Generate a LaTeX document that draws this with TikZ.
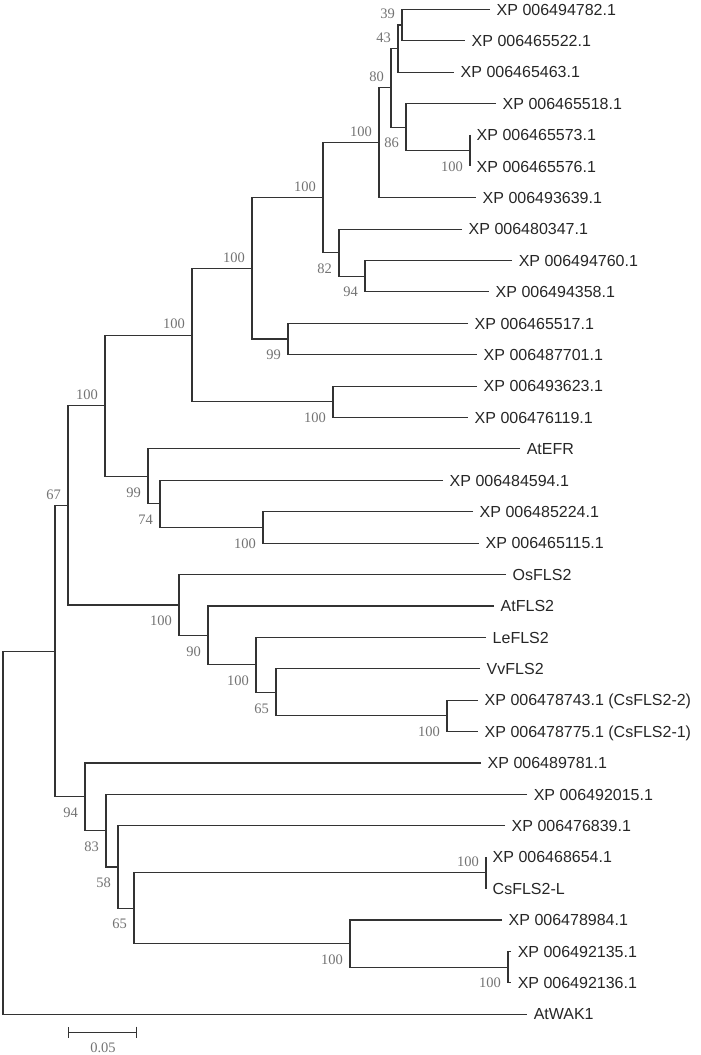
\documentclass[tikz,border=0pt]{standalone}
\usepackage{fontspec}
\setmainfont{Liberation Sans}
\newfontfamily\bsfont{Liberation Serif}
\usetikzlibrary{arrows.meta}

\begin{document}
\begin{tikzpicture}[
    x=1pt, y=-31.4pt,
    br/.style={draw=black!80, line width=1.1pt},
    leaf/.style={anchor=west, inner xsep=6.5pt, inner ysep=0pt, text height=11.5pt, text depth=0pt, font=\fontsize{16}{16}\selectfont, text=black!85},
    bs/.style={inner sep=0pt, text height=9.5pt, text depth=0pt, font=\bsfont\fontsize{14.5}{14.5}\selectfont, text=black!55},
    bsu/.style={bs, anchor=south east, xshift=-7pt, yshift=6pt},
    bsl/.style={bs, anchor=north east, xshift=-7pt, yshift=-11pt}
]
\useasboundingbox (0,-0.296) rectangle (700,33.30);

\node[leaf] (xp94782) at (490,0) {XP 006494782.1};
\node[leaf] (xp65522) at (465,1) {XP 006465522.1};
\node[leaf] (xp65463) at (454,2) {XP 006465463.1};
\node[leaf] (xp65518) at (496,3) {XP 006465518.1};
\node[leaf] (xp65573) at (470,4) {XP 006465573.1};
\node[leaf] (xp65576) at (470,5) {XP 006465576.1};
\node[leaf] (xp93639) at (476,6) {XP 006493639.1};
\node[leaf] (xp80347) at (462,7) {XP 006480347.1};
\node[leaf] (xp94760) at (512,8) {XP 006494760.1};
\node[leaf] (xp94358) at (489,9) {XP 006494358.1};
\node[leaf] (xp65517) at (468,10) {XP 006465517.1};
\node[leaf] (xp87701) at (477,11) {XP 006487701.1};
\node[leaf] (xp93623) at (477,12) {XP 006493623.1};
\node[leaf] (xp76119) at (468,13) {XP 006476119.1};
\node[leaf] (atefr) at (520,14) {AtEFR};
\node[leaf] (xp84594) at (443,15) {XP 006484594.1};
\node[leaf] (xp85224) at (473,16) {XP 006485224.1};
\node[leaf] (xp65115) at (479,17) {XP 006465115.1};
\node[leaf] (osfls) at (506,18) {OsFLS2};
\node[leaf] (atfls) at (494,19) {AtFLS2};
\node[leaf] (lefls) at (486,20) {LeFLS2};
\node[leaf] (vvfls) at (480,21) {VvFLS2};
\node[leaf] (csfls2) at (478,22) {XP 006478743.1 (CsFLS2-2)};
\node[leaf] (csfls1) at (478,23) {XP 006478775.1 (CsFLS2-1)};
\node[leaf] (xp89781) at (481,24) {XP 006489781.1};
\node[leaf] (xp92015) at (527,25) {XP 006492015.1};
\node[leaf] (xp76839) at (505,26) {XP 006476839.1};
\node[leaf] (xp68654) at (486,27) {XP 006468654.1};
\node[leaf] (csflsl) at (486,28) {CsFLS2-L};
\node[leaf] (xp78984) at (502,29) {XP 006478984.1};
\node[leaf] (xp92135) at (511,30) {XP 006492135.1};
\node[leaf] (xp92136) at (511,31) {XP 006492136.1};
\node[leaf] (atwak) at (527,32) {AtWAK1};

\coordinate (nO) at (402,0.5);
\coordinate (nM) at (398,1.25);
\coordinate (nN) at (470,4.5);
\coordinate (nL) at (406,3.75);
\coordinate (nK) at (391,2.5);
\coordinate (nJ) at (379,4.25);
\coordinate (nS) at (365,8.5);
\coordinate (nR) at (339,7.75);
\coordinate (nH) at (323,6);
\coordinate (nI) at (288,10.5);
\coordinate (nF) at (252,8.25);
\coordinate (nG) at (333,12.5);
\coordinate (nD) at (192,10.375);
\coordinate (nQ) at (263,16.5);
\coordinate (nP) at (160,15.75);
\coordinate (nE) at (148,14.875);
\coordinate (nC) at (105,12.625);
\coordinate (nCs) at (447,22.5);
\coordinate (nVv) at (276,21.75);
\coordinate (nLe) at (256,20.875);
\coordinate (nAt) at (208,19.9375);
\coordinate (nFls) at (179,18.96875);
\coordinate (nB) at (68,15.796875);
\coordinate (nY) at (508,30.5);
\coordinate (nX) at (350,29.75);
\coordinate (nW) at (486,27.5);
\coordinate (nV) at (134,28.625);
\coordinate (nU) at (118,27.3125);
\coordinate (nT) at (106,26.15625);
\coordinate (nBot) at (85,25.078125);
\coordinate (nIn) at (55,20.4375);
\coordinate (root) at (3,26.21875);

\node[bsu] (bO) at (nO) {39};
\node[bsu] (bM) at (nM) {43};
\node[bsu] (bK) at (nK) {80};
\node[bsl] (bL) at (nL) {86};
\node[bsl] (bN) at (nN) {100};
\node[bsu] (bJ) at (nJ) {100};
\node[bsl] (bR) at (nR) {82};
\node[bsl] (bS) at (nS) {94};
\node[bsu] (bH) at (nH) {100};
\node[bsl] (bI) at (nI) {99};
\node[bsu] (bF) at (nF) {100};
\node[bsl] (bG) at (nG) {100};
\node[bsu] (bD) at (nD) {100};
\node[bsl] (bE) at (nE) {99};
\node[bsl] (bP) at (nP) {74};
\node[bsl] (bQ) at (nQ) {100};
\node[bsu] (bC) at (nC) {100};
\node[bsl] (bFls) at (nFls) {100};
\node[bsl] (bAt) at (nAt) {90};
\node[bsl] (bLe) at (nLe) {100};
\node[bsl] (bVv) at (nVv) {65};
\node[bsl] (bCs) at (nCs) {100};
\node[bsu] (bB) at (nB) {67};
\node[bsl] (bBot) at (nBot) {94};
\node[bsl] (bT) at (nT) {83};
\node[bsl] (bU) at (nU) {58};
\node[bsl] (bV) at (nV) {65};
\node[bsu] (bW) at (nW) {100};
\node[bsl] (bX) at (nX) {100};
\node[bsl] (bY) at (nY) {100};

\draw[br] (xp94782.west) -| (nO) |- (xp65522.west);
\draw[br] (nO) -| (nM) |- (xp65463.west);
\draw[br] (xp65573.west) -| (nN) |- (xp65576.west);
\draw[br] (xp65518.west) -| (nL) |- (nN);
\draw[br] (nM) -| (nK) |- (nL);
\draw[br] (nK) -| (nJ) |- (xp93639.west);
\draw[br] (xp94760.west) -| (nS) |- (xp94358.west);
\draw[br] (xp80347.west) -| (nR) |- (nS);
\draw[br] (nJ) -| (nH) |- (nR);
\draw[br] (xp65517.west) -| (nI) |- (xp87701.west);
\draw[br] (nH) -| (nF) |- (nI);
\draw[br] (xp93623.west) -| (nG) |- (xp76119.west);
\draw[br] (nF) -| (nD) |- (nG);
\draw[br] (xp85224.west) -| (nQ) |- (xp65115.west);
\draw[br] (xp84594.west) -| (nP) |- (nQ);
\draw[br] (atefr.west) -| (nE) |- (nP);
\draw[br] (nD) -| (nC) |- (nE);
\draw[br] (csfls2.west) -| (nCs) |- (csfls1.west);
\draw[br] (vvfls.west) -| (nVv) |- (nCs);
\draw[br] (lefls.west) -| (nLe) |- (nVv);
\draw[br] (atfls.west) -| (nAt) |- (nLe);
\draw[br] (osfls.west) -| (nFls) |- (nAt);
\draw[br] (nC) -| (nB) |- (nFls);
\draw[br] (xp92135.west) -| (nY) |- (xp92136.west);
\draw[br] (xp78984.west) -| (nX) |- (nY);
\draw[br] (xp68654.west) -| (nW) |- (csflsl.west);
\draw[br] (nW) -| (nV) |- (nX);
\draw[br] (xp76839.west) -| (nU) |- (nV);
\draw[br] (xp92015.west) -| (nT) |- (nU);
\draw[br] (xp89781.west) -| (nBot) |- (nT);
\draw[br] (nB) -| (nIn) |- (nBot);
\draw[br] (nIn) -| (root) |- (atwak.west);

\coordinate (sbl) at (68,32.57);
\coordinate (sbr) at (137,32.57);
\draw[br, {Bar[width=11pt]}-{Bar[width=11pt]}] (sbl) -- (sbr);
\node[bs] (sblab) at (103,33.06) {0.05};
\end{tikzpicture}
\end{document}
